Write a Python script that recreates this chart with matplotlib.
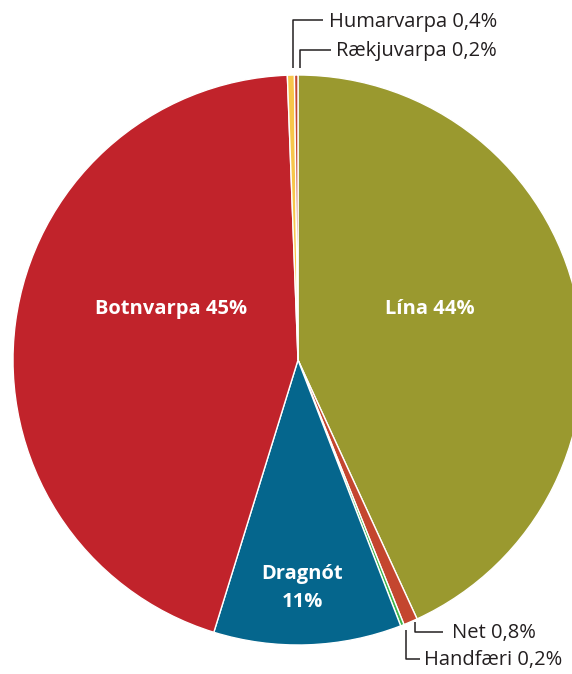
import matplotlib
matplotlib.use("Agg")
import matplotlib.pyplot as plt

categories = ["Lína", "Net", "Handfæri", "Dragnót", "Botnvarpa", "Humarvarpa", "Rækjuvarpa"]
values = [43.4, 0.8, 0.2, 10.7, 44.9, 0.4, 0.2]
labels = ["Lína 44%", "Net 0,8%", "Handfæri 0,2%", "Dragnót\n11%", "Botnvarpa 45%",
          "Humarvarpa 0,4%", "Rækjuvarpa 0,2%"]
colors = ["#9a992f", "#c4462f", "#3db54a", "#05668d", "#c1232b", "#f7c64a", "#c4462f"]

W, H = 572, 674
fig = plt.figure(figsize=(W / 100, H / 100), dpi=100)
ax = fig.add_axes([0, 0, 1, 1])
ax.set_xlim(0, W)
ax.set_ylim(0, H)
ax.set_aspect("equal")
ax.axis("off")

cx, cy, r = 298, H - 360, 285
ax.pie(values, colors=colors, startangle=90, counterclock=False,
       center=(cx, cy), radius=r,
       wedgeprops=dict(edgecolor="white", linewidth=1.0))
ax.set_xlim(0, W)
ax.set_ylim(0, H)

font = "Open Sans"
def Y(y):
    return H - y

bfs = 14.5
# inside labels
ax.text(171, Y(309), labels[4], color="white", fontsize=bfs, fontweight="bold",
        family=font, ha="center", va="center")
ax.text(430, Y(309), labels[0], color="white", fontsize=bfs, fontweight="bold",
        family=font, ha="center", va="center")
l1, l2 = labels[3].split("\n")
ax.text(302, Y(574), l1, color="white", fontsize=bfs, fontweight="bold",
        family=font, ha="center", va="center")
ax.text(302, Y(602), l2, color="white", fontsize=bfs, fontweight="bold",
        family=font, ha="center", va="center")

lc = "#231f20"
lw = 1.1
ofs = 14.5
tc = "#231f20"
# Humarvarpa
ax.plot([293, 293, 323], [Y(68), Y(20), Y(20)], color=lc, lw=lw, solid_capstyle="butt")
ax.text(329, Y(22), labels[5], fontsize=ofs, family=font, color=tc,
        ha="left", va="center")
# Rækjuvarpa
ax.plot([300, 300, 331], [Y(68), Y(50), Y(50)], color=lc, lw=lw, solid_capstyle="butt")
ax.text(336, Y(51), labels[6], fontsize=ofs, family=font, color=tc,
        ha="left", va="center")
# Net
ax.plot([415, 415, 443], [Y(622), Y(632), Y(632)], color=lc, lw=lw, solid_capstyle="butt")
ax.text(452, Y(633), labels[1], fontsize=ofs, family=font, color=tc,
        ha="left", va="center")
# Handfæri
ax.plot([406, 406, 420], [Y(630), Y(659), Y(659)], color=lc, lw=lw, solid_capstyle="butt")
ax.text(424, Y(660), labels[2], fontsize=ofs, family=font, color=tc,
        ha="left", va="center")

fig.savefig("out.png", dpi=100, facecolor="white")
